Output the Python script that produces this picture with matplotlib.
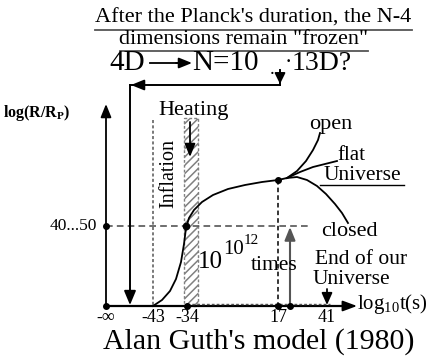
import matplotlib
matplotlib.use("Agg")
import matplotlib.pyplot as plt
from matplotlib.patches import Rectangle, FancyArrowPatch

plt.rcParams['font.family'] = ['Liberation Serif', 'DejaVu Serif']
plt.rcParams['mathtext.fontset'] = 'custom'
plt.rcParams['mathtext.rm'] = 'Liberation Serif'
plt.rcParams['mathtext.bf'] = 'Liberation Serif:bold'
plt.rcParams['hatch.linewidth'] = 1.1

# --- schematic layout (drawing units: pixels, y downwards) ---
origin = (106, 306)          # crossing of log t and log(R/Rp) axes
x_end = 357                  # tip of the time axis
y_top = 104                  # tip of the size axis

tick_labels = ['-∞', '-43', '-34', '17', '41']
tick_pos = [106, 153, 187, 278, 327]
level_label = '40...50'
level_y = 226

# scale-factor curve R(t): inflation then slow expansion
curve_x = [153, 162, 170, 176, 181, 184, 186, 189, 194, 202, 213, 228, 245, 262, 278, 287]
curve_y = [306, 300, 291, 279, 262, 244, 228, 218, 210, 202, 195, 189, 185, 182, 180, 178]

# fate of the Universe after the junction point
open_x = [287, 297, 306, 313, 318, 320]
open_y = [178, 171, 161, 150, 140, 133]
flat_x = [287, 300, 313, 325, 337]
flat_y = [178, 172, 167, 164, 161]
closed_x = [287, 297, 307, 317, 326, 335, 342, 348]
closed_y = [178, 177, 180, 186, 194, 204, 213, 223]

junction = (278, 180)
inflation_x = 153
heating_span = (184, 198)
heating_top = 118
growth_arrow_x = 290
end_arrow_x = 327

fig = plt.figure(figsize=(4.46, 3.56), dpi=100)
ax = fig.add_axes([0, 0, 1, 1])
ax.set_xlim(0, 446)
ax.set_ylim(356, 0)
ax.axis('off')

K = 'black'
G = '#555555'

def arrow(p0, p1, color=K, lw=1.3, head=(9, 4)):
    a = FancyArrowPatch(p0, p1, arrowstyle=f'-|>,head_length={head[0]*0.72:.1f},head_width={head[1]*0.72:.1f}',
                        color=color, lw=lw, mutation_scale=1, shrinkA=0, shrinkB=0)
    ax.add_patch(a)

# axes
ax.plot([origin[0], x_end - 8], [origin[1], origin[1]], color=K, lw=1.6)
arrow((x_end - 12, origin[1]), (x_end, origin[1]), head=(12, 4.5))
ax.plot([origin[0], origin[0]], [origin[1], y_top + 6], color=K, lw=1.3)
arrow((origin[0], y_top + 12), (origin[0], y_top), head=(11, 4.5))
ax.plot([tick_pos[2], 330], [origin[1] - 2, origin[1] - 2], color=G, lw=1.0, ls=(0, (2, 1.5)))

# tick labels and dots on the time axis
for x, lab in zip(tick_pos, tick_labels):
    ax.text(x, origin[1] + 3, lab, ha='center', va='top', fontsize=13)
for x in [tick_pos[0], tick_pos[2], tick_pos[3], growth_arrow_x]:
    ax.plot(x, origin[1], 'o', color=K, ms=4)
ax.text(x_end, origin[1] - 2, r'log$_{10}$t(s)', ha='left', va='center', fontsize=15)

# y-axis label and level
ax.text(3, 113, r'$\mathbf{log(R/R_P)}$', ha='left', va='center', fontsize=11.5)
ax.text(origin[0] - 9, level_y, level_label, ha='right', va='center', fontsize=12.5)
ax.plot([origin[0], 310], [level_y, level_y], color=G, lw=1.2, ls=(0, (4, 2.5)))
ax.plot(origin[0], level_y, 'o', color=K, ms=4)

# inflation boundary and heating band
ax.plot([inflation_x, inflation_x], [120, origin[1]], color=G, lw=1.1, ls=(0, (2, 1.5)))
ax.add_patch(Rectangle((heating_span[0], heating_top), heating_span[1] - heating_span[0],
                       origin[1] - heating_top, fill=False, hatch='////',
                       edgecolor='#808080', lw=1.0, ls=(0, (2, 1.5))))
ax.text(169, 173, 'Inflation', rotation=90, ha='center', va='center', fontsize=14.5)
ax.text(194, 111, 'Heating', ha='center', va='center', fontsize=16)
arrow((190, 122), (190, 157), head=(11, 4.5))

# curve and branches
ax.plot(curve_x, curve_y, color=K, lw=1.3)
ax.plot(open_x, open_y, color=K, lw=1.3)
ax.plot(flat_x, flat_y, color=K, lw=1.3)
ax.plot(closed_x, closed_y, color=K, lw=1.3)
ax.plot(tick_pos[2] - 1, level_y, 'o', color=K, ms=4.5)
ax.plot(*junction, 'o', color=K, ms=4)
ax.plot([junction[0], junction[0]], [junction[1], origin[1]], color=K, lw=1.1, ls=(0, (3, 2)))

ax.text(331, 125, 'open', ha='center', va='center', fontsize=16)
ax.text(351, 155, 'flat', ha='center', va='center', fontsize=15)
ax.text(362, 176, 'Universe', ha='center', va='center', fontsize=15.5)
ax.plot([320, 404], [185, 185], color=K, lw=1.0)
ax.text(349, 231, 'closed', ha='center', va='center', fontsize=16)

# growth factor
ax.text(198, 262, '10', ha='left', va='center', fontsize=18)
ax.text(223, 249, '10', ha='left', va='center', fontsize=15)
ax.text(244, 240, '12', ha='left', va='center', fontsize=11)
ax.text(274, 266, 'times', ha='center', va='center', fontsize=15.5)
arrow((growth_arrow_x, origin[1]), (growth_arrow_x, level_y + 1), color=G, lw=1.5, head=(11, 4.5))

ax.text(361, 259, 'End of our', ha='center', va='center', fontsize=15.5)
ax.text(351, 279, 'Universe', ha='center', va='center', fontsize=15.5)
arrow((end_arrow_x, 289), (end_arrow_x, origin[1] - 1), head=(10, 4.5))

# dimensional reduction after the Planck time
ax.text(253, 18, "After the Planck's duration, the N-4", ha='center', va='center', fontsize=16)
ax.plot([95, 412], [30, 30], color=G, lw=1.3)
ax.text(244, 40, 'dimensions remain "frozen"', ha='center', va='center', fontsize=16)
ax.plot([120, 368], [51, 51], color=G, lw=1.3)
ax.text(109, 63, '4D', ha='left', va='center', fontsize=21)
ax.plot([150, 184], [63, 63], color=K, lw=1.3)
arrow((176, 63), (192, 63), head=(11, 4.5))
ax.text(192, 63, 'N=10', ha='left', va='center', fontsize=21)
ax.text(272, 69, '.', ha='center', va='center', fontsize=14)
ax.text(288, 63, '·', ha='center', va='center', fontsize=16)
ax.text(292, 63, '13D?', ha='left', va='center', fontsize=20)
ax.plot([130, 280], [85, 85], color=K, lw=1.4)
ax.plot([280, 280], [85, 70], color=K, lw=1.4)
arrow((280, 72), (280, 84), head=(9, 4.5))
arrow((142, 85), (131, 85), head=(11, 4.5))
ax.plot([130, 130], [85, origin[1] - 8], color=K, lw=1.4)
arrow((130, 290), (130, origin[1] - 1), head=(12, 5))

ax.text(259, 342, "Alan Guth's model (1980)", ha='center', va='center', fontsize=21.5)

fig.savefig('out.png', dpi=100)
